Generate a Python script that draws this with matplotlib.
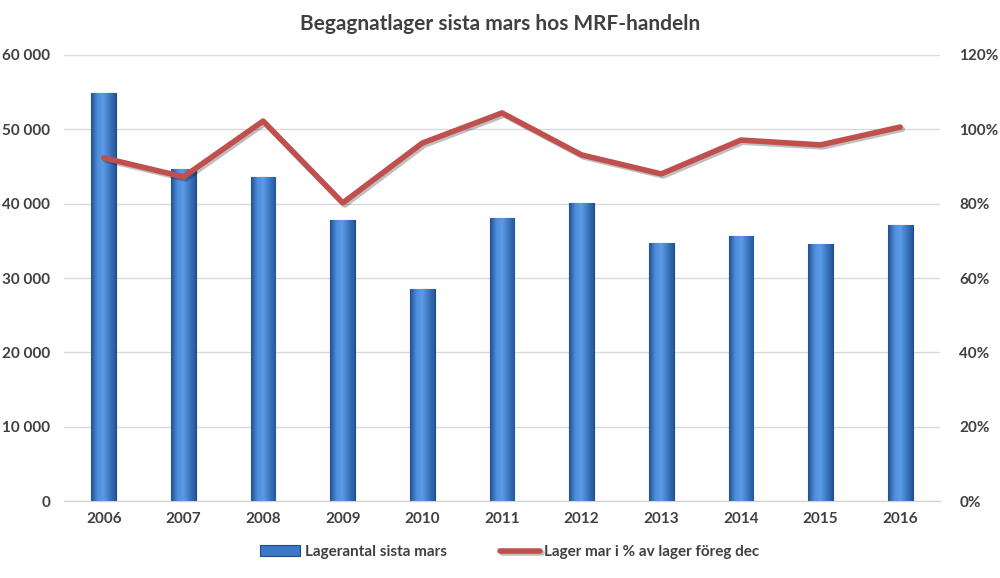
import matplotlib
matplotlib.use("Agg")
import matplotlib.pyplot as plt
import matplotlib.patheffects as pe
from matplotlib.colors import LinearSegmentedColormap
from matplotlib.ticker import FuncFormatter
import numpy as np

plt.rcParams['font.family'] = ['Lato', 'DejaVu Sans']

years = ['2006', '2007', '2008', '2009', '2010', '2011',
         '2012', '2013', '2014', '2015', '2016']
lager = [54900, 44600, 43600, 37800, 28500, 38100,
         40100, 34700, 35700, 34600, 37150]
andel = [92.3, 87.2, 102.2, 80.2, 96.3, 104.4,
         93.1, 88.0, 97.1, 95.8, 100.6]

text_col = '#404040'

fig = plt.figure(figsize=(10, 5.78), dpi=100)
ax = fig.add_axes([0.064, 0.133, 0.876, 0.772])
ax2 = ax.twinx()

x = np.arange(len(years))
bars = ax.bar(x, lager, width=0.31, color='#3b78c6', edgecolor='#1f4a85',
              linewidth=0.8, zorder=2, label='Lagerantal sista mars')

# horizontal gradient inside each bar (bevelled look)
grad = LinearSegmentedColormap.from_list(
    'bar', ['#22508f', '#4f8ddc', '#5d9ae6', '#3c78c4', '#26569a'])
g = np.linspace(0, 1, 64).reshape(1, -1)
for b in bars:
    x0, w, h = b.get_x(), b.get_width(), b.get_height()
    im = ax.imshow(g, cmap=grad, aspect='auto', zorder=2.1,
                   extent=(x0, x0 + w, 0, h), interpolation='bicubic')
    im.set_clip_path(b)

ax.set_xlim(-0.5, len(years) - 0.5)
ax.set_ylim(0, 60000)
ax.set_yticks(range(0, 60001, 10000))
ax.yaxis.set_major_formatter(FuncFormatter(lambda v, p: f'{int(v):,}'.replace(',', ' ')))
ax.set_xticks(x)
ax.set_xticklabels(years)
ax.grid(axis='y', color='#d9d9d9', linewidth=1, zorder=0)
ax.set_axisbelow(True)

line, = ax2.plot(x, andel, color='#c0504d', linewidth=4, solid_capstyle='round',
                 solid_joinstyle='round', zorder=3,
                 label='Lager mar i % av lager föreg dec',
                 path_effects=[pe.SimpleLineShadow(offset=(1.5, -1.5), alpha=0.25),
                               pe.Normal()])
ax2.set_ylim(0, 120)
ax2.set_yticks(range(0, 121, 20))
ax2.yaxis.set_major_formatter(FuncFormatter(lambda v, p: f'{int(v)}%'))

for a in (ax, ax2):
    for s in a.spines.values():
        s.set_visible(False)
    a.tick_params(length=0, labelsize=11, colors=text_col)
    for lbl in a.get_yticklabels() + a.get_xticklabels():
        lbl.set_fontweight('bold')
ax.spines['bottom'].set_visible(True)
ax.spines['bottom'].set_color('#d0d0d0')
ax.tick_params(axis='y', pad=10)
ax.tick_params(axis='x', pad=8)
ax2.tick_params(axis='y', pad=14)

fig.suptitle('Begagnatlager sista mars hos MRF-handeln', y=0.975,
             fontsize=15, fontweight='bold', color=text_col)

leg = fig.legend([bars, line], [bars.get_label(), line.get_label()],
                 loc='center', bbox_to_anchor=(0.51, 0.045), ncol=2,
                 frameon=False, fontsize=11, handlelength=2.6,
                 columnspacing=3.5, handletextpad=0.3)
for t in leg.get_texts():
    t.set_color(text_col)
    t.set_fontweight('bold')

fig.savefig('out.png', dpi=100)
